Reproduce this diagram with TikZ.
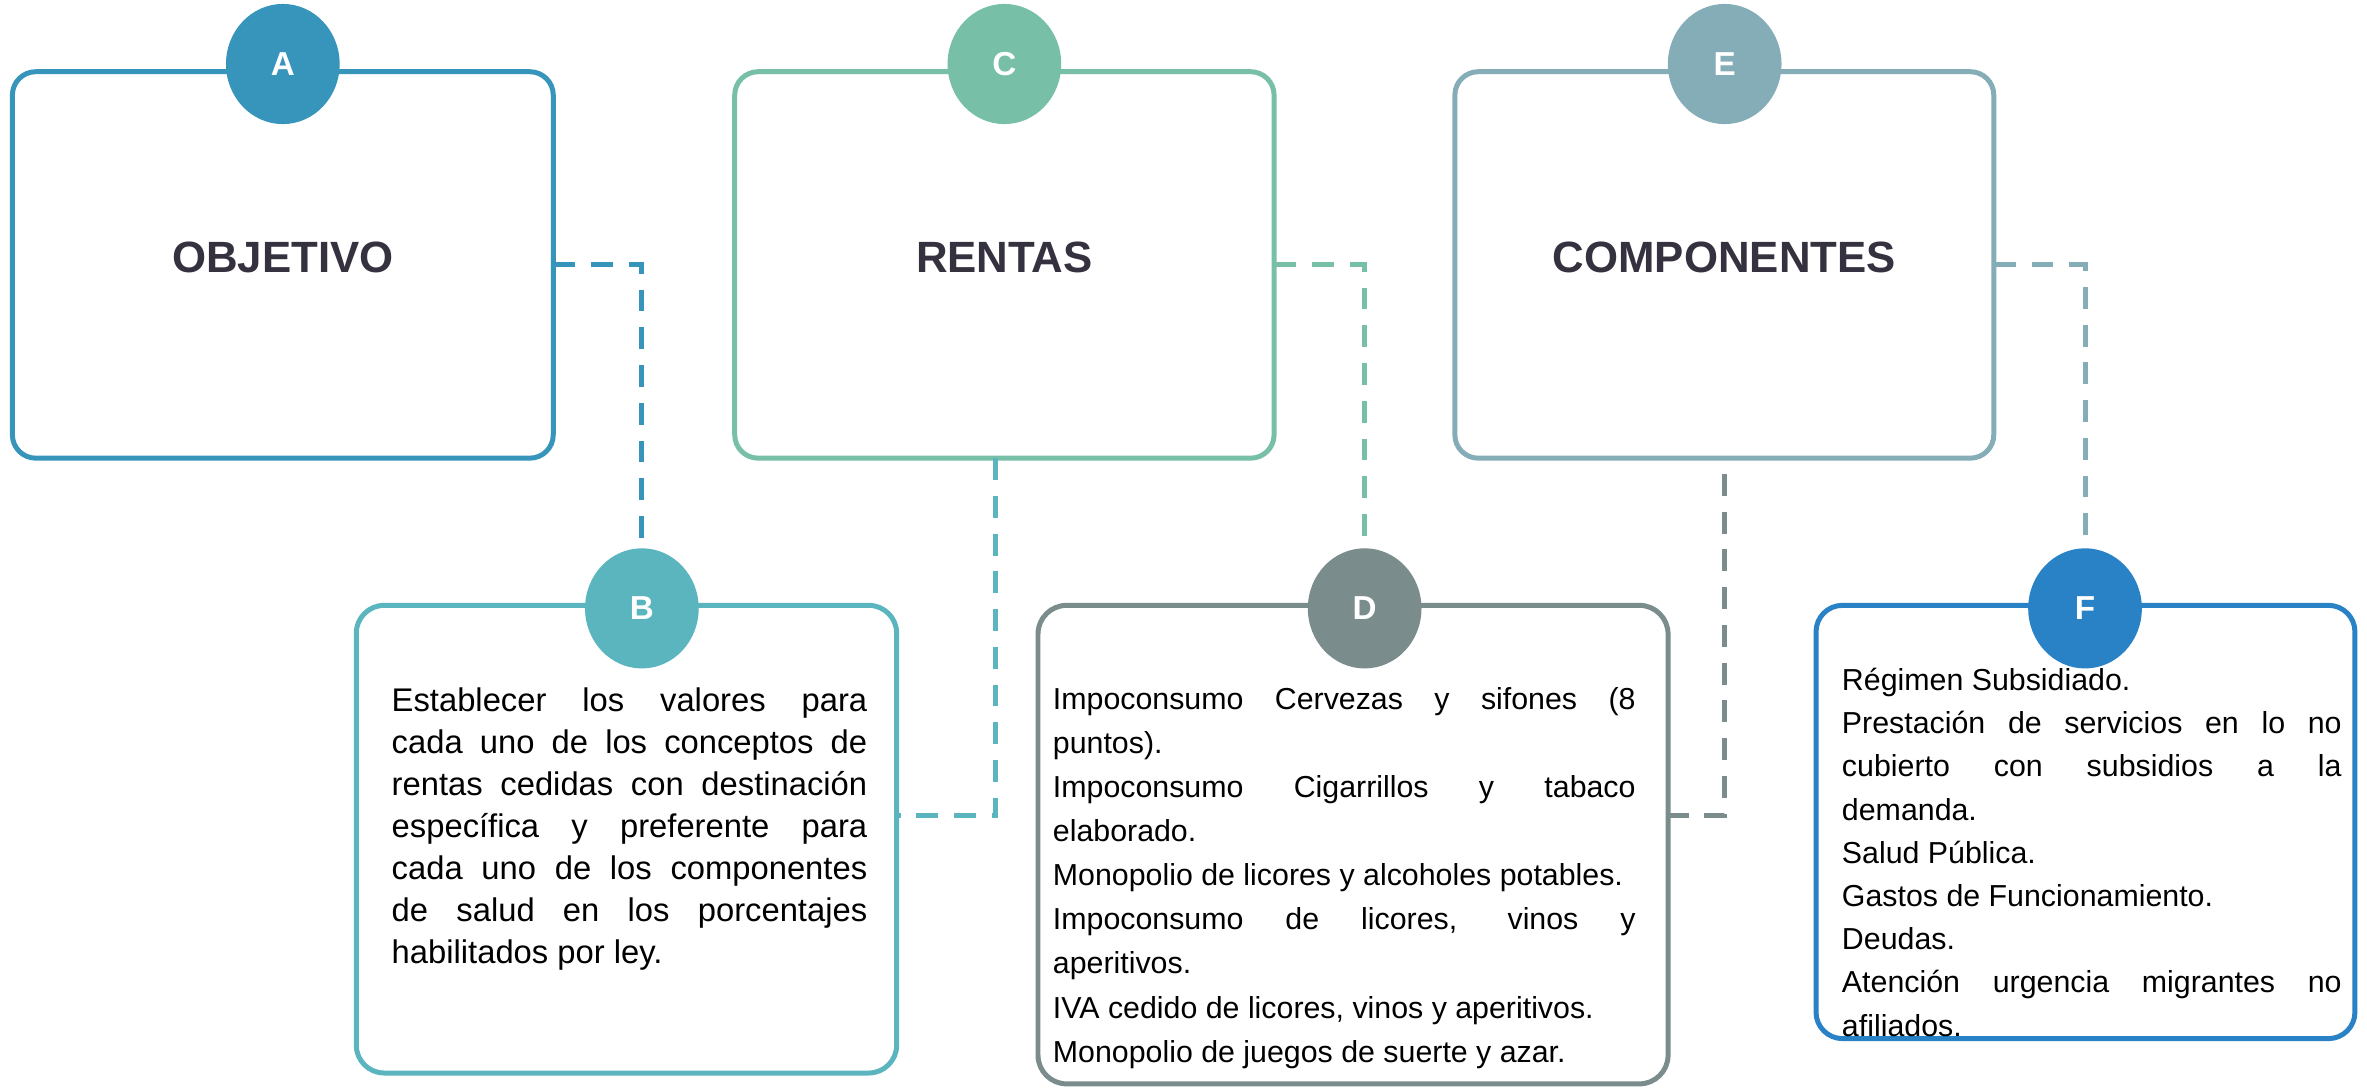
\documentclass[tikz,border=0pt]{standalone}
\usepackage{fontspec}
\setmainfont{Liberation Sans}
\usetikzlibrary{shapes.geometric,calc}
\definecolor{cA}{HTML}{3795BC}
\definecolor{cB}{HTML}{5AB5BF}
\definecolor{cC}{HTML}{77BFA7}
\definecolor{cD}{HTML}{7A8C8C}
\definecolor{cE}{HTML}{85ADB8}
\definecolor{cF}{HTML}{2882C5}
\definecolor{ttl}{HTML}{35313F}
\newcommand{\jl}[1]{\makebox[\linewidth][s]{#1}\par}
\begin{document}
\begin{tikzpicture}[x=1pt,y=-1pt,
  box/.style 2 args={draw=#1, line width=3.3pt, fill=white, rounded corners=#2, outer sep=0pt, inner sep=0pt},
  badge/.style={ellipse, fill=#1, minimum width=75.3pt, minimum height=79.6pt, inner sep=0pt, text=white, font=\fontsize{22}{22}\selectfont\bfseries},
  title/.style={font=\fontsize{29}{29}\selectfont\bfseries, text=ttl, inner sep=0pt, anchor=base},
  conn/.style={draw=#1, line width=3.3pt, dash pattern=on 14.5pt off 10.5pt},
  body/.style={anchor=base west, inner sep=0pt}]
\useasboundingbox (0,0) rectangle (1568,721);

% boxes
\node[box={cA}{15.5}, minimum width=358.3pt, minimum height=256pt] (boxA) at (187.35,175.5) {};
\node[box={cC}{15.5}, minimum width=357.3pt, minimum height=256pt] (boxC) at (665.35,175.5) {};
\node[box={cE}{15.5}, minimum width=357pt, minimum height=256pt] (boxE) at (1142.25,175.5) {};
\node[box={cB}{18.5}, minimum width=358pt, minimum height=309.8pt] (boxB) at (415,555.9) {};
\node[box={cD}{19}, minimum width=417.4pt, minimum height=317pt] (boxD) at (896.3,559.5) {};
\node[box={cF}{17.5}, minimum width=357pt, minimum height=287pt] (boxF) at (1381.5,544.5) {};

% badges
\node[badge=cA] (cirA) at (187.35,42.4) {A};
\node[badge=cC] (cirC) at (665.35,42.4) {C};
\node[badge=cE] (cirE) at (1142.5,42.4) {E};
\node[badge=cB] (cirB) at (425.2,403) {B};
\node[badge=cD] (cirD) at (904,403) {D};
\node[badge=cF] (cirF) at (1381.2,403) {F};

% connectors
\draw[conn=cA] (boxA.east) -| (cirB.north);
\draw[conn=cC] (boxC.east) -| (cirD.north);
\draw[conn=cE] (boxE.east) -| (cirF.north);
\draw[conn=cB] ($(boxC.south)+(-5.8,0)$) |- ($(boxB.east)+(0,-15.4)$);
\draw[conn=cD, dash phase=14.5pt] (boxE.south) |- ($(boxD.east)+(-3,-19.2)$);

% titles
\node[title] (tA) at (187.35,180.2) {OBJETIVO};
\node[title] (tC) at (665.35,180.2) {RENTAS};
\node[title] (tE) at (1142.25,180.2) {COMPONENTES};

% body texts
\node[body] (txB) at (259.3,471.5) {\parbox[t]{315pt}{\fontsize{21.7}{27.8}\selectfont
\jl{Establecer los valores para}
\jl{cada uno de los conceptos de}
\jl{rentas cedidas con destinación}
\jl{específica y preferente para}
\jl{cada uno de los componentes}
\jl{de salud en los porcentajes}
habilitados por ley.}};

\node[body] (txD) at (697.3,470) {\parbox[t]{386pt}{\fontsize{20.1}{29.2}\selectfont
\jl{Impoconsumo Cervezas y sifones (8}
puntos).\par
\jl{Impoconsumo Cigarrillos y tabaco}
elaborado.\par
Monopolio de licores y alcoholes potables.\par
\jl{Impoconsumo de licores, vinos y}
aperitivos.\par
IVA cedido de licores, vinos y aperitivos.\par
Monopolio de juegos de suerte y azar.}};

\node[body] (txF) at (1220,457.5) {\parbox[t]{331pt}{\fontsize{20.1}{28.6}\selectfont
Régimen Subsidiado.\par
\jl{Prestación de servicios en lo no}
\jl{cubierto con subsidios a la}
demanda.\par
Salud Pública.\par
Gastos de Funcionamiento.\par
Deudas.\par
\jl{Atención urgencia migrantes no}
afiliados.}};
\end{tikzpicture}
\end{document}
